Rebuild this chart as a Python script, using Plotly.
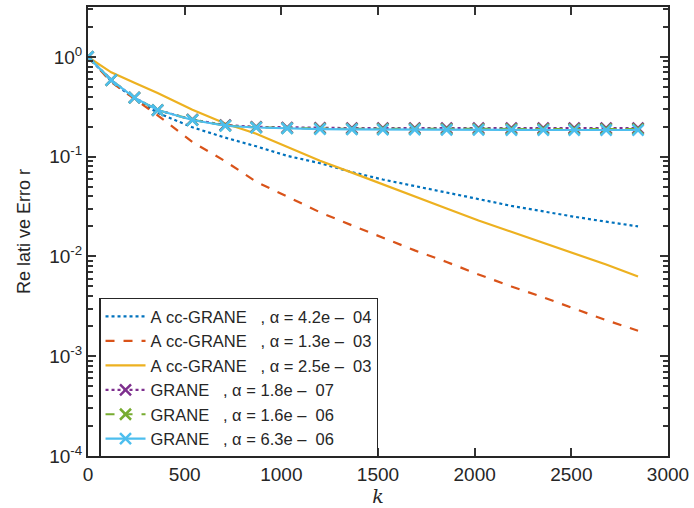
import plotly.graph_objects as go

k = [0, 120, 240, 360, 540, 710, 870, 1030, 1200, 1365, 1525, 1690, 1855, 2020, 2190, 2355, 2515, 2680, 2845]

acc_a = [1.0, 0.57, 0.38, 0.275, 0.197, 0.155, 0.127, 0.102, 0.086, 0.070, 0.059, 0.051, 0.044, 0.0376, 0.0321, 0.0282, 0.0250, 0.0223, 0.020]
acc_b = [1.0, 0.56, 0.38, 0.26, 0.14, 0.09, 0.056, 0.040, 0.0277, 0.0205, 0.0155, 0.0115, 0.0088, 0.0066, 0.0050, 0.0039, 0.0030, 0.0023, 0.0018]
acc_c = [1.0, 0.70, 0.55, 0.435, 0.295, 0.215, 0.170, 0.125, 0.0912, 0.0692, 0.0525, 0.0398, 0.0302, 0.0229, 0.0176, 0.0136, 0.0107, 0.0083, 0.0063]
grane_a = [1.0, 0.585, 0.39, 0.293, 0.235, 0.207, 0.199, 0.196, 0.194, 0.193, 0.193, 0.193, 0.193, 0.193, 0.193, 0.193, 0.193, 0.193, 0.193]
grane_b = [1.0, 0.585, 0.39, 0.293, 0.234, 0.205, 0.197, 0.193, 0.191, 0.190, 0.190, 0.190, 0.189, 0.189, 0.189, 0.189, 0.189, 0.189, 0.189]
grane_c = [1.0, 0.585, 0.39, 0.293, 0.233, 0.204, 0.196, 0.192, 0.189, 0.188, 0.187, 0.187, 0.186, 0.186, 0.185, 0.185, 0.185, 0.185, 0.185]

y_major = [1e-4, 1e-3, 1e-2, 1e-1, 1]
y_major_text = ["10<sup>-4</sup>", "10<sup>-3</sup>", "10<sup>-2</sup>", "10<sup>-1</sup>", "10<sup>0</sup>"]
y_minor = [m * 10.0 ** e for e in range(-4, 1) for m in range(2, 10)]

NB = "\u00a0"
names = [
    f"A{NB}cc-GRANE{NB*3}, α = 4.2e{NB}–{NB}{NB}04",
    f"A{NB}cc-GRANE{NB*3}, α = 1.3e{NB}–{NB}{NB}03",
    f"A{NB}cc-GRANE{NB*3}, α = 2.5e{NB}–{NB}{NB}03",
    f"GRANE{NB*3}, α = 1.8e{NB}–{NB}{NB}07",
    f"GRANE{NB*3}, α = 1.6e{NB}–{NB}{NB}06",
    f"GRANE{NB*3}, α = 6.3e{NB}–{NB}{NB}06",
]
colors = ["#0072BD", "#D95319", "#EDB120", "#7E2F8E", "#77AC30", "#4DBEEE"]
dashes = ["dot", "dash", "solid", "dot", "dash", "solid"]
series = [acc_a, acc_b, acc_c, grane_a, grane_b, grane_c]

fig = go.Figure()
for i, ys in enumerate(series):
    has_marker = i >= 3
    fig.add_trace(go.Scatter(
        x=k, y=ys, name=names[i],
        mode="lines+markers" if has_marker else "lines",
        line=dict(color=colors[i], width=2.2, dash=dashes[i]),
        marker=dict(symbol="x-thin", size=11, line=dict(width=2.5, color=colors[i])) if has_marker else None,
    ))

axcol = "#262626"
tickcol = "#333333"
clear = "rgba(0,0,0,0)"
fig.update_layout(
    width=694, height=508,
    margin=dict(l=88, r=26, t=5, b=52),
    paper_bgcolor="white", plot_bgcolor="white",
    font=dict(family="Liberation Sans, Arial, sans-serif", size=17, color=axcol),
    showlegend=True,
    legend=dict(
        x=0.019, y=0.3525, xanchor="left", yanchor="top",
        bgcolor="white", bordercolor=axcol, borderwidth=1.5,
        font=dict(size=16.5, color=axcol),
        tracegroupgap=0, itemwidth=40,
    ),
    xaxis=dict(
        range=[0, 3000], dtick=500,
        showgrid=True, gridcolor=clear, zeroline=False,
        showline=True, linecolor=axcol, linewidth=2, mirror="allticks",
        ticks="inside", ticklen=8, tickwidth=2, tickcolor=tickcol,
        tickfont=dict(size=19, color=axcol),
        title=dict(text="<i>k</i>", font=dict(family="DejaVu Serif, serif", size=19, color=axcol), standoff=4),
    ),
    yaxis=dict(
        type="log", range=[-4, 0.5],
        tickmode="array", tickvals=y_major, ticktext=y_major_text,
        showgrid=True, gridcolor=clear, zeroline=False,
        showline=True, linecolor=axcol, linewidth=2, mirror="allticks",
        ticks="inside", ticklen=8, tickwidth=2, tickcolor=tickcol,
        tickfont=dict(size=19, color=axcol),
        minor=dict(tickmode="array", tickvals=y_minor, ticks="inside", ticklen=5,
                   tickwidth=2, tickcolor=tickcol, showgrid=True, gridcolor=clear),
        title=dict(text=f"Re{NB}lati{NB}ve{NB}Erro{NB}r", font=dict(size=18, color=axcol), standoff=14),
    ),
)

fig.write_html("out.html", config={"displayModeBar": False},
               post_script="document.body.style.margin='0px';")
